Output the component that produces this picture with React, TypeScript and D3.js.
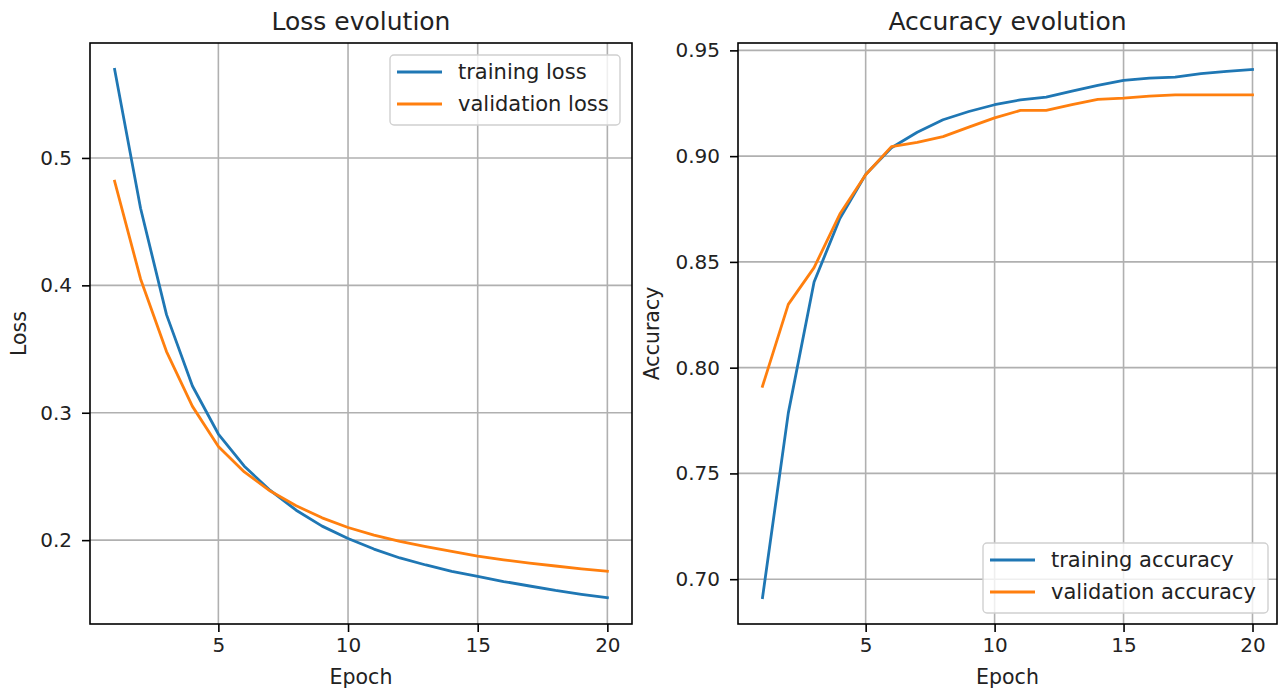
import React, { useEffect, useRef } from "react";
import * as d3 from "d3";

// values
const epochs = d3.range(1, 21);
const trainingLoss = [0.5695, 0.4605, 0.377, 0.321, 0.2833, 0.258, 0.239, 0.2235, 0.211, 0.2013, 0.193, 0.186, 0.1805, 0.1755, 0.1715, 0.1675, 0.164, 0.1605, 0.1575, 0.1549];
const validationLoss = [0.4817, 0.405, 0.348, 0.305, 0.2735, 0.2535, 0.2385, 0.227, 0.2175, 0.2099, 0.204, 0.199, 0.195, 0.1912, 0.1874, 0.1845, 0.182, 0.1797, 0.1775, 0.1756];
const trainingAcc = [0.6913, 0.7785, 0.8405, 0.8705, 0.8913, 0.904, 0.9113, 0.9172, 0.9211, 0.9243, 0.9266, 0.9279, 0.9307, 0.9334, 0.9358, 0.9369, 0.9374, 0.939, 0.9401, 0.941];
const validationAcc = [0.7912, 0.8299, 0.8473, 0.8726, 0.8912, 0.9045, 0.9065, 0.9092, 0.9137, 0.9181, 0.9216, 0.9216, 0.9244, 0.9268, 0.9274, 0.9284, 0.929, 0.929, 0.929, 0.929];
const xTicks = [5, 10, 15, 20];
const lossTicks = [0.2, 0.3, 0.4, 0.5];
const accTicks = [0.7, 0.75, 0.8, 0.85, 0.9, 0.95];

const blue = "#1f77b4";
const orange = "#ff7f0e";
const font = "DejaVu Sans, sans-serif";

function padded(vals: number[]) {
  const [lo, hi] = d3.extent(vals) as [number, number];
  const m = (hi - lo) * 0.05;
  return [lo - m, hi + m];
}

export default function App() {
  const ref = useRef<SVGSVGElement>(null);

  useEffect(() => {
    document.body.style.margin = "0";
    const svg = d3.select(ref.current);
    svg.selectAll("*").remove();

    const drawPanel = (opts: any) => {
      const { left, right, top, bottom, title, ylabel, ylabelX, series, yTicks, fmt, legend } = opts;
      const x = d3.scaleLinear().domain(padded(epochs)).range([left, right]);
      const allY = series.flatMap((s: any) => s.values);
      const y = d3.scaleLinear().domain(padded(allY)).range([bottom, top]);
      const g = svg.append("g");

      // grid
      g.selectAll(".vgrid").data(xTicks).enter().append("line")
        .attr("x1", (d) => x(d)).attr("x2", (d) => x(d))
        .attr("y1", top).attr("y2", bottom)
        .attr("stroke", "#b0b0b0").attr("stroke-width", 1.6);
      g.selectAll(".hgrid").data(yTicks).enter().append("line")
        .attr("x1", left).attr("x2", right)
        .attr("y1", (d: number) => y(d)).attr("y2", (d: number) => y(d))
        .attr("stroke", "#b0b0b0").attr("stroke-width", 1.6);

      // lines
      const line = d3.line<number>().x((d, i) => x(epochs[i])).y((d) => y(d));
      series.forEach((s: any) => {
        g.append("path").attr("d", line(s.values)).attr("fill", "none")
          .attr("stroke", s.color).attr("stroke-width", 2.8)
          .attr("stroke-linejoin", "round").attr("stroke-linecap", "square");
      });

      // axes
      const xa = g.append("g").attr("transform", `translate(0,${bottom})`)
        .call(d3.axisBottom(x).tickValues(xTicks).tickSize(8).tickPadding(6).tickSizeOuter(0));
      const ya = g.append("g").attr("transform", `translate(${left},0)`)
        .call(d3.axisLeft(y).tickValues(yTicks).tickFormat(d3.format(fmt)).tickSize(8).tickPadding(10).tickSizeOuter(0));
      [xa, ya].forEach((a) => {
        a.select(".domain").remove();
        a.selectAll("line").attr("stroke", "#000").attr("stroke-width", 1.6);
        a.selectAll("text").attr("font-family", font).attr("font-size", 20).attr("fill", "#222");
      });

      // frame
      g.append("rect").attr("x", left).attr("y", top)
        .attr("width", right - left).attr("height", bottom - top)
        .attr("fill", "none").attr("stroke", "#000").attr("stroke-width", 1.6);

      // texts
      g.append("text").attr("x", (left + right) / 2).attr("y", 30)
        .attr("text-anchor", "middle").attr("font-family", font).attr("font-size", 25)
        .attr("fill", "#222").text(title);
      g.append("text").attr("x", (left + right) / 2).attr("y", 684)
        .attr("text-anchor", "middle").attr("font-family", font).attr("font-size", 20.5)
        .attr("fill", "#222").text("Epoch");
      g.append("text").attr("transform", `translate(${ylabelX},${(top + bottom) / 2}) rotate(-90)`)
        .attr("text-anchor", "middle").attr("font-family", font).attr("font-size", 20.5)
        .attr("fill", "#222").text(ylabel);

      // legend
      const lg = g.append("g");
      lg.append("rect").attr("x", legend.x).attr("y", legend.y)
        .attr("width", legend.w).attr("height", legend.h).attr("rx", 4)
        .attr("fill", "white").attr("fill-opacity", 0.8)
        .attr("stroke", "#d0d0d0").attr("stroke-width", 1.4);
      series.forEach((s: any, i: number) => {
        const cy = legend.y + 17 + i * 32;
        lg.append("line").attr("x1", legend.x + 7).attr("x2", legend.x + 52)
          .attr("y1", cy).attr("y2", cy).attr("stroke", s.color).attr("stroke-width", 2.8);
        lg.append("text").attr("x", legend.x + 68).attr("y", cy).attr("dy", "0.35em")
          .attr("font-family", font).attr("font-size", 21).attr("fill", "#222").text(s.name);
      });
    };

    drawPanel({
      left: 90, right: 632, top: 43, bottom: 624,
      title: "Loss evolution", ylabel: "Loss", ylabelX: 26,
      series: [
        { name: "training loss", values: trainingLoss, color: blue },
        { name: "validation loss", values: validationLoss, color: orange },
      ],
      yTicks: lossTicks, fmt: ".1f",
      legend: { x: 390, y: 55, w: 230, h: 70 },
    });

    drawPanel({
      left: 738, right: 1277, top: 43, bottom: 624,
      title: "Accuracy evolution", ylabel: "Accuracy", ylabelX: 659,
      series: [
        { name: "training accuracy", values: trainingAcc, color: blue },
        { name: "validation accuracy", values: validationAcc, color: orange },
      ],
      yTicks: accTicks, fmt: ".2f",
      legend: { x: 983, y: 543, w: 285, h: 70 },
    });
  }, []);

  return <svg ref={ref} width={1279} height={691} style={{ display: "block", background: "white" }} />;
}
